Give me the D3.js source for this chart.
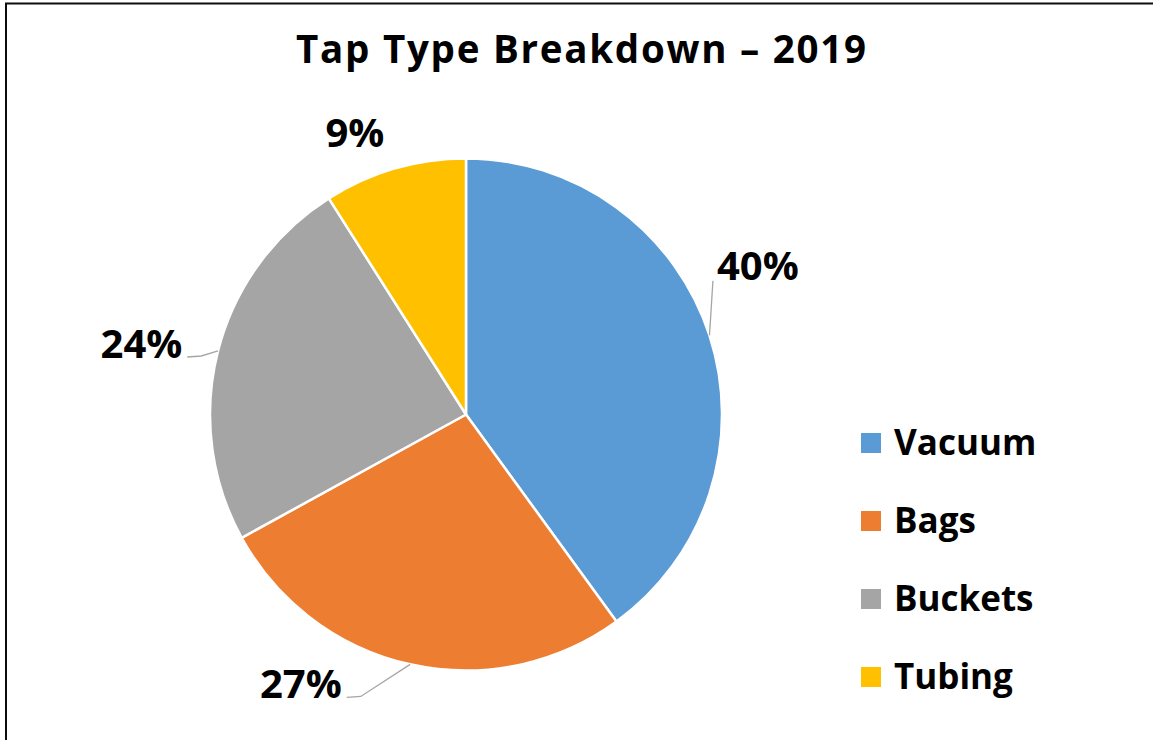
<!DOCTYPE html>
<html>
<head>
<meta charset="utf-8">
<script src="https://cdn.jsdelivr.net/npm/d3@7"></script>
<style>
  html, body { margin: 0; padding: 0; background: #fff; }
  svg { display: block; font-family: "Open Sans", Lato, sans-serif; }
</style>
</head>
<body>
<div id="chart"></div>
<script>
// data
const categories = ['Vacuum', 'Bags', 'Buckets', 'Tubing'];
const shares = [40, 27, 24, 9];
const colors = ['#5B9BD5', '#ED7D31', '#A5A5A5', '#FFC000'];
const title = 'Tap Type Breakdown \u2013 2019';

const width = 1153, height = 740;
const cx = 466, cy = 414.5, radius = 256;

// where Excel put each data label (relative to centre, in radii) and whether it has a leader
const labelLayout = [
  { dx: 1.14, dy: -0.582, leader: true },
  { dx: -0.645, dy: 1.053, leader: true },
  { dx: -1.268, dy: -0.277, leader: true },
  { dx: -0.434, dy: -1.10, leader: false }
];

const svg = d3.select('#chart').append('svg')
  .attr('width', width)
  .attr('height', height);

// chart frame (right and bottom edges fall outside the picture)
svg.append('rect')
  .attr('x', 6).attr('y', 3.5)
  .attr('width', width + 20).attr('height', height + 20)
  .attr('fill', 'none')
  .attr('stroke', '#0d0d0d')
  .attr('stroke-width', 2);

svg.append('text')
  .attr('x', 581).attr('y', 63)
  .attr('text-anchor', 'middle')
  .attr('font-size', 38.5)
  .attr('font-weight', 700)
  .attr('fill', '#000')
  .attr('textLength', 570)
  .attr('lengthAdjust', 'spacing')
  .text(title);

const data = categories.map((c, i) => ({ name: c, value: shares[i], color: colors[i] }));

const pie = d3.pie().sort(null).value(d => d.value);
const arcs = pie(data);
const arc = d3.arc().innerRadius(0).outerRadius(radius);

const g = svg.append('g').attr('transform', `translate(${cx},${cy})`);

g.selectAll('path.slice')
  .data(arcs)
  .enter().append('path')
  .attr('class', 'slice')
  .attr('d', arc)
  .attr('fill', d => d.data.color)
  .attr('stroke', '#fff')
  .attr('stroke-width', 2.5)
  .attr('stroke-linejoin', 'round');

const total = d3.sum(shares);
const labelSize = 40;

const labels = g.selectAll('text.lbl')
  .data(arcs)
  .enter().append('text')
  .attr('class', 'lbl')
  .attr('x', (d, i) => labelLayout[i].dx * radius)
  .attr('y', (d, i) => labelLayout[i].dy * radius + labelSize * 0.36)
  .attr('text-anchor', 'middle')
  .attr('font-size', labelSize)
  .attr('font-weight', 700)
  .attr('fill', '#000')
  .text(d => Math.round(d.data.value / total * 100) + '%');

// leader lines from slice edge (mid angle) to label
labels.each(function (d, i) {
  if (!labelLayout[i].leader) return;
  const b = this.getBBox();
  const base = labelLayout[i].dy * radius + labelSize * 0.36;
  const mid = (d.startAngle + d.endAngle) / 2;
  const p0 = [Math.sin(mid) * radius, -Math.cos(mid) * radius];
  let pts;
  if (p0[0] > b.x + b.width) {
    // label sits to the left of the slice edge
    const end = [b.x + b.width + 5, base - 1];
    pts = [p0, [end[0] + 14, end[1] - 1], end];
  } else {
    const end = [b.x - 4, base + 1];
    pts = [p0, end];
  }
  g.append('path')
    .attr('d', d3.line()(pts))
    .attr('fill', 'none')
    .attr('stroke', '#A6A6A6')
    .attr('stroke-width', 1.3);
});

// legend
const legend = svg.append('g').attr('transform', 'translate(861,443)');
const rows = legend.selectAll('g')
  .data(data)
  .enter().append('g')
  .attr('transform', (d, i) => `translate(0,${i * 78})`);
rows.append('rect')
  .attr('x', 0).attr('y', -10)
  .attr('width', 20).attr('height', 20)
  .attr('fill', d => d.color);
rows.append('text')
  .attr('x', 33).attr('y', 12)
  .attr('font-size', 35)
  .attr('font-weight', 700)
  .attr('fill', '#000')
  .text(d => d.name);
</script>
</body>
</html>
